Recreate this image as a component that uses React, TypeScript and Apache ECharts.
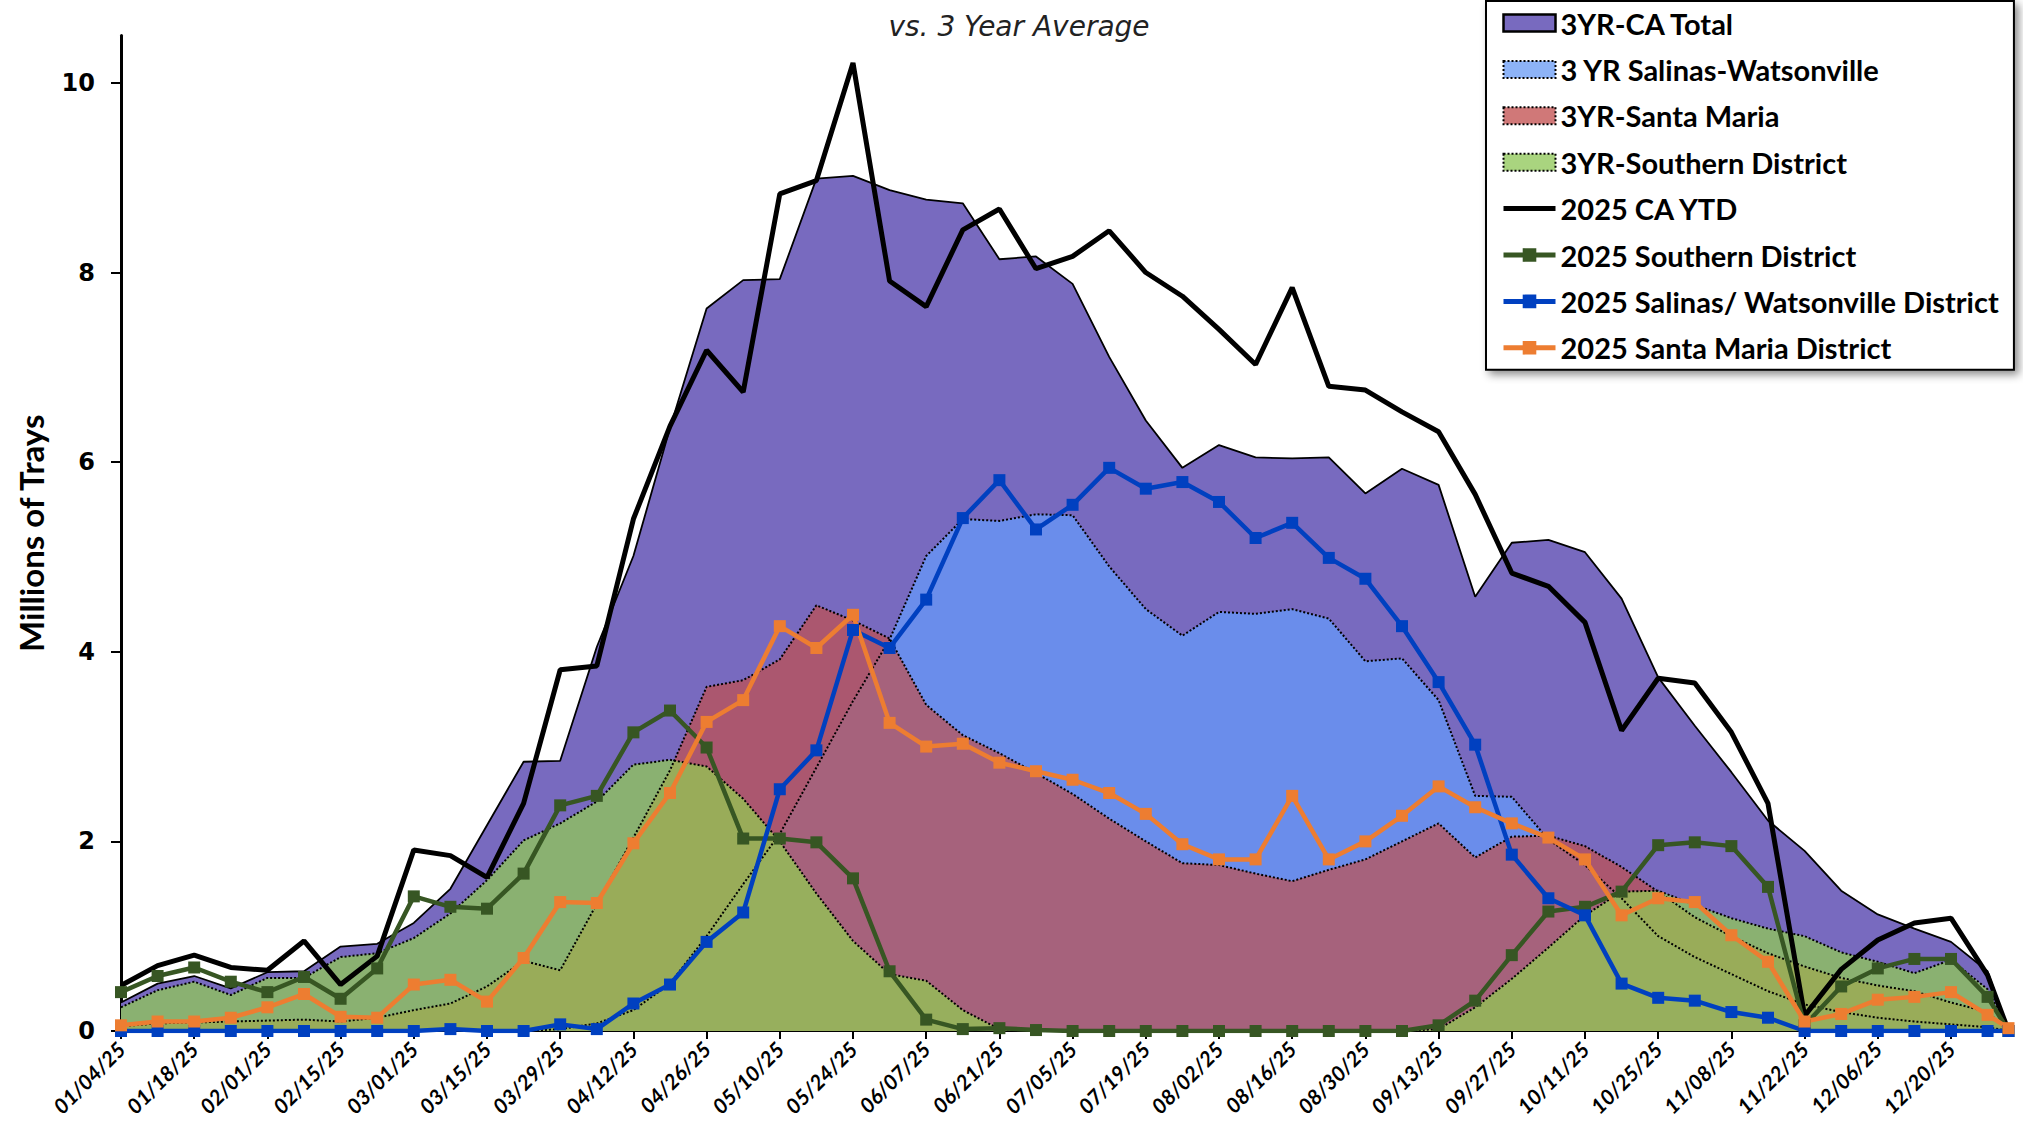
import React, { useEffect, useRef } from "react";
import * as echarts from "echarts";

// Week-ending dates (last point is the partial week ending 12/31)
const dates = [
  "01/04/25", "01/11/25", "01/18/25", "01/25/25", "02/01/25", "02/08/25", "02/15/25", "02/22/25",
  "03/01/25", "03/08/25", "03/15/25", "03/22/25", "03/29/25", "04/05/25", "04/12/25", "04/19/25",
  "04/26/25", "05/03/25", "05/10/25", "05/17/25", "05/24/25", "05/31/25", "06/07/25", "06/14/25",
  "06/21/25", "06/28/25", "07/05/25", "07/12/25", "07/19/25", "07/26/25", "08/02/25", "08/09/25",
  "08/16/25", "08/23/25", "08/30/25", "09/06/25", "09/13/25", "09/20/25", "09/27/25", "10/04/25",
  "10/11/25", "10/18/25", "10/25/25", "11/01/25", "11/08/25", "11/15/25", "11/22/25", "11/29/25",
  "12/06/25", "12/13/25", "12/20/25", "12/27/25", "12/31/25",
];

const tickLabels = [
  "01/04/25", "01/18/25", "02/01/25", "02/15/25", "03/01/25", "03/15/25", "03/29/25", "04/12/25",
  "04/26/25", "05/10/25", "05/24/25", "06/07/25", "06/21/25", "07/05/25", "07/19/25", "08/02/25",
  "08/16/25", "08/30/25", "09/13/25", "09/27/25", "10/11/25", "10/25/25", "11/08/25", "11/22/25",
  "12/06/25", "12/20/25",
];

const yTicks = [0, 2, 4, 6, 8, 10];

const caTotal3yr = [0.30, 0.50, 0.58, 0.45, 0.62, 0.63, 0.89, 0.92, 1.14, 1.50, 2.17, 2.84, 2.85, 4.05, 5.01, 6.36, 7.62, 7.92, 7.93, 8.99, 9.02, 8.87, 8.77, 8.73, 8.14, 8.17, 7.88, 7.11, 6.44, 5.94, 6.18, 6.05, 6.04, 6.05, 5.67, 5.93, 5.76, 4.58, 5.15, 5.18, 5.05, 4.56, 3.73, 3.22, 2.73, 2.22, 1.90, 1.48, 1.23, 1.08, 0.94, 0.63, 0];
const salinas3yr = [0, 0, 0, 0, 0, 0, 0, 0, 0, 0, 0, 0, 0.02, 0.08, 0.22, 0.50, 1.00, 1.55, 2.08, 2.78, 3.48, 4.13, 5.01, 5.40, 5.38, 5.45, 5.44, 4.90, 4.45, 4.17, 4.42, 4.40, 4.45, 4.35, 3.90, 3.93, 3.49, 2.48, 2.47, 2.02, 1.75, 1.40, 1.00, 0.78, 0.60, 0.42, 0.28, 0.20, 0.14, 0.10, 0.07, 0.04, 0];
const santaMaria3yr = [0.05, 0.08, 0.09, 0.10, 0.11, 0.12, 0.10, 0.14, 0.22, 0.29, 0.47, 0.74, 0.64, 1.34, 2.04, 2.75, 3.63, 3.70, 3.92, 4.49, 4.33, 4.14, 3.44, 3.12, 2.93, 2.72, 2.50, 2.24, 2.00, 1.77, 1.75, 1.66, 1.58, 1.70, 1.81, 2.00, 2.19, 1.83, 2.05, 2.06, 1.95, 1.73, 1.47, 1.20, 1.00, 0.82, 0.68, 0.56, 0.48, 0.42, 0.30, 0.20, 0];
const southern3yr = [0.25, 0.43, 0.52, 0.38, 0.56, 0.56, 0.78, 0.82, 0.98, 1.24, 1.59, 2.01, 2.19, 2.42, 2.81, 2.86, 2.79, 2.45, 2.00, 1.45, 0.95, 0.60, 0.53, 0.22, 0.02, 0, 0, 0, 0, 0, 0, 0, 0, 0, 0, 0, 0.02, 0.25, 0.55, 0.88, 1.22, 1.47, 1.48, 1.33, 1.19, 1.08, 1.00, 0.83, 0.73, 0.61, 0.75, 0.44, 0];

const caYtd2025 = [0.48, 0.69, 0.80, 0.67, 0.64, 0.95, 0.49, 0.79, 1.91, 1.85, 1.62, 2.40, 3.81, 3.85, 5.40, 6.38, 7.18, 6.74, 8.83, 8.97, 10.21, 7.91, 7.64, 8.45, 8.67, 8.04, 8.17, 8.44, 8.00, 7.75, 7.40, 7.03, 7.84, 6.80, 6.76, 6.53, 6.32, 5.66, 4.83, 4.69, 4.31, 3.17, 3.72, 3.67, 3.15, 2.40, 0.16, 0.65, 0.96, 1.14, 1.19, 0.59, 0];
const southern2025 = [0.41, 0.58, 0.67, 0.52, 0.41, 0.57, 0.34, 0.66, 1.42, 1.31, 1.29, 1.66, 2.38, 2.48, 3.15, 3.38, 2.99, 2.03, 2.03, 1.99, 1.61, 0.63, 0.12, 0.02, 0.03, 0.01, 0, 0, 0, 0, 0, 0, 0, 0, 0, 0, 0.06, 0.32, 0.80, 1.26, 1.31, 1.47, 1.96, 1.99, 1.95, 1.52, 0.06, 0.47, 0.66, 0.76, 0.76, 0.36, 0];
const salinas2025 = [0, 0, 0, 0, 0, 0, 0, 0, 0, 0.02, 0, 0, 0.07, 0.02, 0.29, 0.49, 0.94, 1.25, 2.55, 2.96, 4.23, 4.04, 4.55, 5.41, 5.81, 5.29, 5.55, 5.94, 5.72, 5.79, 5.58, 5.20, 5.36, 4.99, 4.77, 4.27, 3.68, 3.02, 1.86, 1.40, 1.22, 0.50, 0.35, 0.32, 0.20, 0.14, 0, 0, 0, 0, 0, 0, 0];
const santaMaria2025 = [0.06, 0.10, 0.10, 0.14, 0.25, 0.39, 0.15, 0.14, 0.49, 0.54, 0.31, 0.77, 1.36, 1.35, 1.98, 2.51, 3.26, 3.49, 4.27, 4.04, 4.39, 3.25, 3.00, 3.03, 2.83, 2.74, 2.65, 2.51, 2.29, 1.97, 1.81, 1.81, 2.48, 1.81, 2.00, 2.27, 2.58, 2.36, 2.19, 2.04, 1.81, 1.22, 1.40, 1.36, 1.01, 0.73, 0.10, 0.18, 0.33, 0.36, 0.41, 0.17, 0.03];

const DAY = 86400000;
function dayOf(s: string): number {
  const [m, d, y] = s.split("/").map(Number);
  return Math.round((Date.UTC(2000 + y, m - 1, d) - Date.UTC(2025, 0, 4)) / DAY);
}
const xDays = dates.map(dayOf);
const tickDays = tickLabels.map(dayOf);
const pairs = (vals: number[]) => vals.map((v, i) => [xDays[i], v]);

const BLACK = "#000000";

export default function App() {
  const ref = useRef<HTMLDivElement>(null);
  useEffect(() => {
    document.body.style.margin = "0";
    if (!ref.current) return;
    const chart = echarts.init(ref.current, undefined, { renderer: "svg" });

    const areaSeries = (name: string, vals: number[], color: string, opacity: number, dotted: boolean) => ({
      name,
      type: "line",
      data: pairs(vals),
      symbol: "none",
      showSymbol: false,
      smooth: false,
      lineStyle: { color: BLACK, width: dotted ? 2 : 1.8, type: dotted ? "dotted" : "solid" },
      itemStyle: { color },
      areaStyle: { color, opacity },
      emphasis: { disabled: true },
      silent: true,
    });

    const lineSeries = (name: string, vals: number[], color: string, width: number, marker: boolean) => ({
      name,
      type: "line",
      data: pairs(vals),
      symbol: marker ? "rect" : "none",
      symbolSize: marker ? 12 : 0,
      showSymbol: marker,
      smooth: false,
      lineStyle: { color, width },
      itemStyle: { color },
      emphasis: { disabled: true },
      silent: true,
    });

    const labelFmt = (v: number) => {
      const idx = xDays.indexOf(Math.round(v));
      return idx >= 0 ? dates[idx] : "";
    };

    chart.setOption({
      animation: false,
      backgroundColor: "#ffffff",
      grid: { left: 121, right: 14.5, top: 35.5, bottom: 100, containLabel: false },
      xAxis: {
        type: "value",
        min: 0,
        max: xDays[xDays.length - 1],
        interval: 14,
        axisLine: { show: true, onZero: false, lineStyle: { color: BLACK, width: 2 } },
        axisTick: { show: true, length: 8, customValues: tickDays, lineStyle: { color: BLACK, width: 2 } },
        axisLabel: {
          customValues: tickDays,
          rotate: 45,
          margin: 14,
          formatter: labelFmt,
          fontFamily: "Lato",
          fontWeight: "bold",
          fontStyle: "italic",
          fontSize: 21,
          color: BLACK,
        },
        splitLine: { show: false },
      },
      yAxis: {
        type: "value",
        min: 0,
        max: 10.5,
        interval: 2,
        name: "Millions of Trays",
        nameLocation: "middle",
        nameGap: 74,
        nameRotate: 90,
        nameTextStyle: { fontFamily: "Lato", fontWeight: "bold", fontSize: 33, color: BLACK },
        axisLine: { show: true, lineStyle: { color: BLACK, width: 3 } },
        axisTick: { show: true, length: 10, customValues: yTicks, lineStyle: { color: BLACK, width: 2 } },
        axisLabel: {
          customValues: yTicks,
          margin: 26,
          fontFamily: "DejaVu Sans",
          fontWeight: "bold",
          fontSize: 24,
          color: BLACK,
        },
        splitLine: { show: false },
      },
      legend: {
        orient: "vertical",
        left: 1486,
        top: 1,
        padding: [6, 15, 6, 15],
        itemGap: 14.4,
        itemWidth: 52,
        itemHeight: 17,
        backgroundColor: "#ffffff",
        borderColor: BLACK,
        borderWidth: 2,
        shadowBlur: 8,
        shadowColor: "rgba(0,0,0,0.45)",
        shadowOffsetX: 4,
        shadowOffsetY: 4,
        selectedMode: false,
        textStyle: { fontFamily: "Lato", fontWeight: "bold", fontSize: 29, color: BLACK, lineHeight: 32 },
        data: [
          { name: "3YR-CA Total", icon: "rect", itemStyle: { color: "#786ABF", opacity: 1, borderColor: BLACK, borderWidth: 2.5, borderType: "solid" } },
          { name: "3 YR Salinas-Watsonville", icon: "rect", itemStyle: { color: "#8DB3F7", opacity: 1, borderColor: BLACK, borderWidth: 2, borderType: "dotted" } },
          { name: "3YR-Santa Maria", icon: "rect", itemStyle: { color: "#D07878", opacity: 1, borderColor: BLACK, borderWidth: 2, borderType: "dotted" } },
          { name: "3YR-Southern District", icon: "rect", itemStyle: { color: "#A9D47F", opacity: 1, borderColor: BLACK, borderWidth: 2, borderType: "dotted" } },
          { name: "2025 CA YTD", itemStyle: { opacity: 0 }, lineStyle: { width: 5, color: BLACK } },
          { name: "2025 Southern District", lineStyle: { width: 5, color: "#375623" } },
          { name: "2025 Salinas/ Watsonville District", lineStyle: { width: 5, color: "#0040C0" } },
          { name: "2025 Santa Maria District", lineStyle: { width: 5, color: "#ED7D31" } },
        ],
      },
      graphic: [
        {
          type: "text",
          x: 1019,
          y: 26,
          silent: true,
          style: {
            text: "vs. 3 Year Average",
            align: "center",
            verticalAlign: "middle",
            fontFamily: "DejaVu Sans",
            fontStyle: "italic",
            fontSize: 28,
            fill: "#222222",
          },
        },
      ],
      series: [
        areaSeries("3YR-CA Total", caTotal3yr, "#786ABF", 1, false),
        areaSeries("3 YR Salinas-Watsonville", salinas3yr, "rgb(100,157,254)", 0.7, true),
        areaSeries("3YR-Santa Maria", santaMaria3yr, "#C0504D", 0.7, true),
        areaSeries("3YR-Southern District", southern3yr, "#92D050", 0.7, true),
        lineSeries("2025 CA YTD", caYtd2025, "#000000", 5, false),
        lineSeries("2025 Southern District", southern2025, "#375623", 4.5, true),
        lineSeries("2025 Salinas/ Watsonville District", salinas2025, "#0040C0", 4.5, true),
        lineSeries("2025 Santa Maria District", santaMaria2025, "#ED7D31", 4.5, true),
      ],
    });

    return () => chart.dispose();
  }, []);

  return <div ref={ref} style={{ position: "absolute", left: 0, top: 0, width: 2023, height: 1131 }} />;
}
